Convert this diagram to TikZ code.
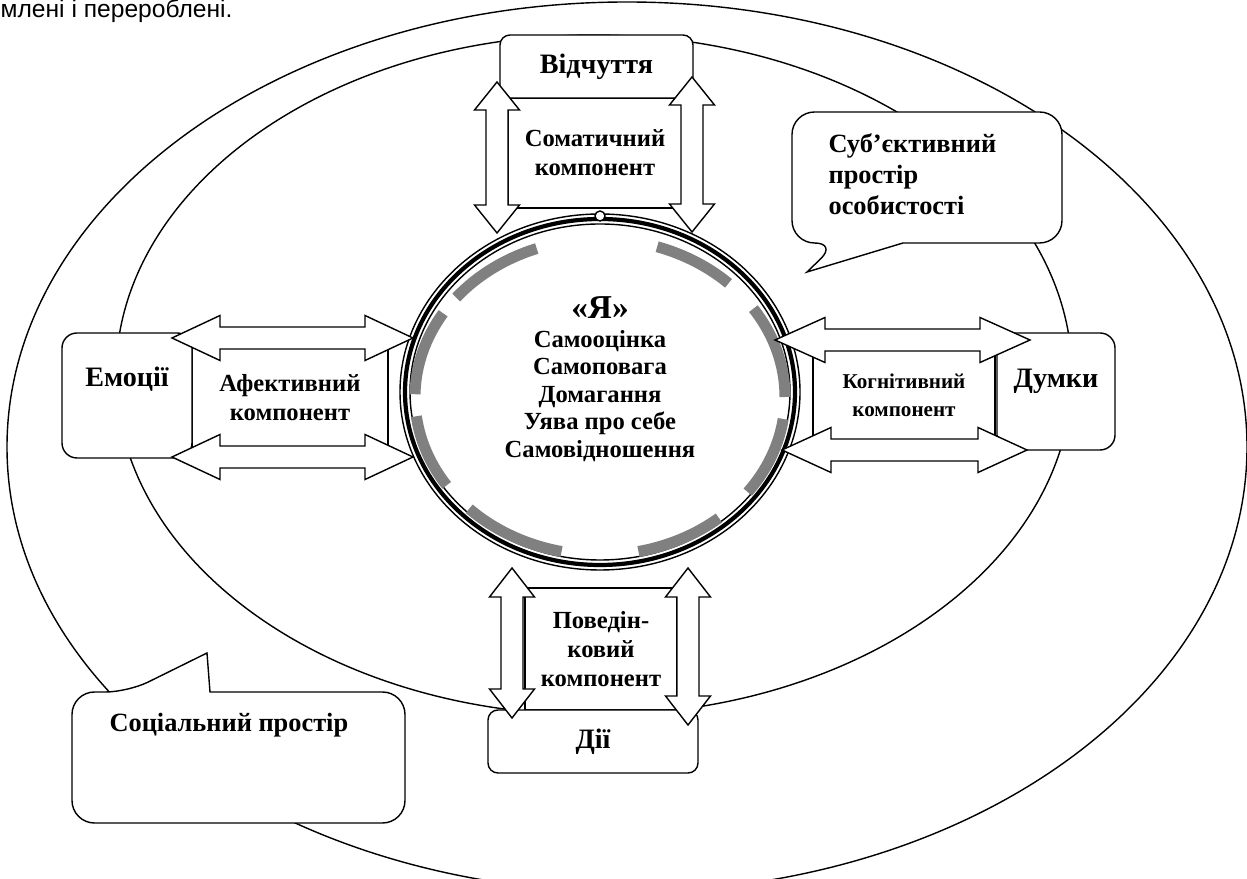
\documentclass[tikz,border=0pt]{standalone}
\usepackage{fontspec}
\setmainfont{Liberation Serif}
\newfontfamily\headfont{Liberation Sans}

\tikzstyle{outbox}=[draw,fill=white,rounded corners=0.2cm,inner sep=0pt,font=\fontsize{16}{19}\selectfont\bfseries,align=center]
\tikzstyle{compbox}=[draw,fill=white,inner sep=0pt,font=\fontsize{14}{16.5}\selectfont\bfseries,align=center]
\tikzstyle{callout}=[draw,fill=white]
% block double arrow: centre x, centre y, half length, angle, head length
\newcommand{\blockarrow}[5]{%
  \draw[fill=white,rotate around={#4:(#1,#2)}] (#1-#3,#2) -- ++(#5,0.45) -- ++(0,-0.23)
    -- (#1+#3-#5,#2+0.22) -- ++(0,0.23) -- (#1+#3,#2) -- ++(-#5,-0.45) -- ++(0,0.23)
    -- (#1-#3+#5,#2-0.22) -- ++(0,-0.23) -- cycle;}

\begin{document}
\begin{tikzpicture}[line width=0.8pt]
\useasboundingbox (0,0) rectangle (24.94,17.58);
\node[anchor=west,inner sep=0pt,font=\headfont\fontsize{14}{16}\selectfont] (head) at (0,17.36) {млені і перероблені.};
% social and subjective space
\draw (12.54,8.64) ellipse [x radius=12.4,y radius=8.9];
\draw (11.88,10.08) ellipse [x radius=9.56,y radius=6.8];
\draw[callout] (18.06,12.72) [rounded corners=0.45cm] -- (21.24,12.72) -- (21.24,15.34) -- (15.84,15.34) -- (15.84,12.72) -- (16.74,12.72) [sharp corners] -- (16.14,12.14) -- cycle;
\draw[callout] (4.2,3.74) [rounded corners=0.45cm] -- (8.1,3.74) -- (8.1,1.12) -- (1.44,1.12) -- (1.44,3.74) -- (2.56,3.74) [sharp corners] -- (4.14,4.52) -- cycle;
\node[anchor=west,align=left,font=\fontsize{15}{17.6}\selectfont\bfseries] (subj) at (16.44,14.1) {Суб’єктивний\\простір\\особистості};
\node[anchor=west,font=\fontsize{15}{18}\selectfont\bfseries] (social) at (2.06,3.08) {Соціальний простір};
% self ring
\coordinate (ja) at (12,9.74);
\draw (ja) ellipse [x radius=4,y radius=3.56];
\draw[line width=2.4pt] (ja) ellipse [x radius=3.9,y radius=3.46];
\draw (ja) ellipse [x radius=3.8,y radius=3.36];
\draw[fill=white] (12,13.26) circle (0.1);
\foreach \a/\b in {0/34,46/72,110/141,148/179,187/214,225/258,282/310,323/352}
  \draw[gray,line width=0.22cm] ([shift={(\a:3.7 and 3.16)}]12,9.64) arc[start angle=\a,end angle=\b,x radius=3.7,y radius=3.16];
\node[align=center,font=\fontsize{14}{15.6}\selectfont\bfseries] (self) at (12,10.0)
  {{\fontsize{19}{21}\selectfont«Я»}\\[1pt]Самооцінка\\Самоповага\\Домагання\\Уява про себе\\Самовідношення};
% components
\node[compbox,minimum width=3.48cm,minimum height=2.2cm] (soma) at (11.9,14.52) {Соматичний\\компонент};
\node[compbox,minimum width=3.92cm,minimum height=2.38cm] (afect) at (5.8,9.63) {Афективний\\компонент};
\node[compbox,minimum width=3.64cm,minimum height=2.2cm,font=\fontsize{12}{16}\selectfont\bfseries] (kogn) at (18.08,9.68) {Когнітивний\\компонент};
\node[compbox,minimum width=3.04cm,minimum height=2.44cm] (povd) at (12.02,4.6) {Поведін-\\ковий\\компонент};
\node[outbox,minimum width=3.86cm,minimum height=1.26cm] (vidch) at (11.93,16.25) {Відчуття};
\node[outbox,rounded corners=0.3cm,minimum width=2.6cm,minimum height=2.5cm,text height=0.4cm,text depth=0.74cm] (emo) at (2.54,9.67) {Емоції};
\node[outbox,rounded corners=0.3cm,minimum width=2.36cm,minimum height=2.34cm,text height=0.4cm,text depth=0.54cm] (dumky) at (21.12,9.75) {Думки};
\node[outbox,minimum width=4.2cm,minimum height=1.26cm] (dii) at (11.86,2.75) {Дії};
% block arrows
\blockarrow{9.94}{14.43}{1.51}{90}{0.56}
\blockarrow{13.84}{14.49}{1.55}{90}{0.56}
\blockarrow{10.24}{4.72}{1.5}{90}{0.58}
\blockarrow{13.76}{4.65}{1.57}{90}{0.58}
\blockarrow{5.85}{10.82}{2.41}{0}{0.96}
\blockarrow{5.85}{8.44}{2.41}{0}{0.96}
\blockarrow{18.05}{10.78}{2.55}{0}{1.0}
\blockarrow{18.09}{8.58}{2.45}{0}{0.98}
\end{tikzpicture}
\end{document}
